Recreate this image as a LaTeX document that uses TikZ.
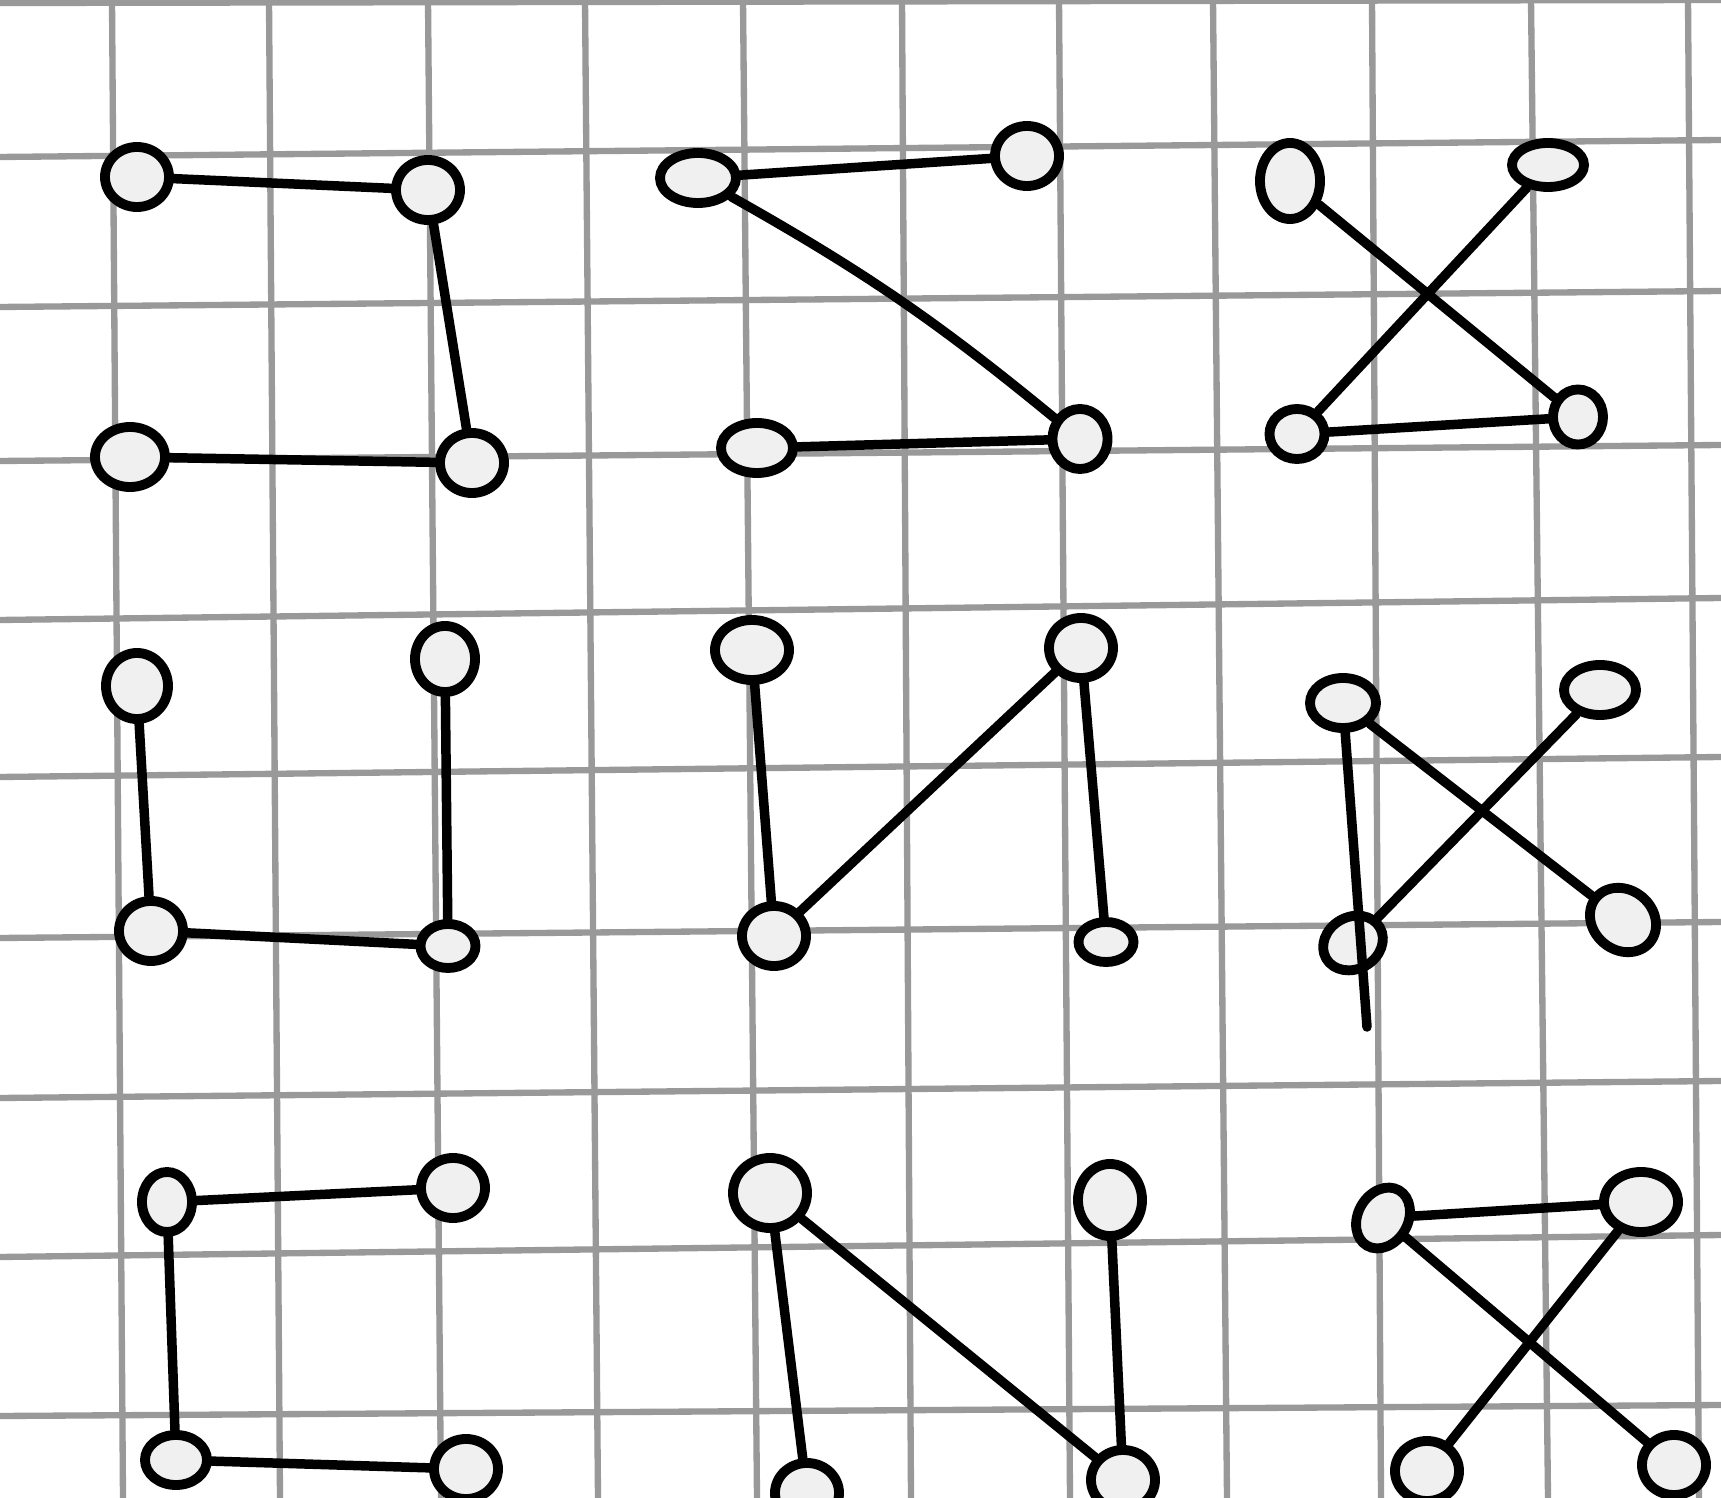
\documentclass[tikz,border=0pt]{standalone}
\usepackage{xcolor}
\usepackage{tikz}
\usetikzlibrary{shapes.geometric}
\tikzset{
  rejilla/.style={gray!80,line width=1.8pt},
  nodo/.style={ellipse,draw=black,fill=gray!12,line width=2.8pt,inner sep=0pt,minimum width=0.64cm,minimum height=0.6cm},
  plano/.style={nodo,minimum width=0.72cm,minimum height=0.5cm},
  arista/.style={black,line width=2.7pt,line cap=round}
}
\begin{document}
\begin{tikzpicture}[x=0.01cm,y=-0.01cm]
\useasboundingbox (0,0) rectangle (1721,1498);
\fill[white] (0,0) rectangle (1721,1498);
\draw[rejilla] (112,0)--(123,1498) (269,0)--(280,1498) (428,0)--(441,1498)
  (585,0)--(598,1498) (743,0)--(757,1498) (902,0)--(911,1498)
  (1059,0)--(1070,1498) (1213,0)--(1227,1498) (1372,0)--(1381,1498)
  (1531,0)--(1548,1498) (1688,0)--(1699,1498);
\draw[rejilla] (0,3)--(1721,0) (0,157)--(1721,140) (0,307)--(1721,291)
  (0,461)--(1721,445) (0,620)--(1721,598) (0,777)--(1721,757)
  (0,938)--(1721,922) (0,1098)--(1721,1081) (0,1257)--(1721,1235)
  (0,1416)--(1721,1405);
\node[nodo] (a1) at (137,177) {};
\node[nodo] (b1) at (428,190) {};
\node[nodo,minimum width=0.7cm] (c1) at (130,457) {};
\node[nodo] (d1) at (472,463) {};
\draw[arista] (a1)--(b1) (b1)--(d1) (c1)--(d1);
\node[plano,minimum width=0.76cm] (a2) at (698,178) {};
\node[nodo] (b2) at (1027,156) {};
\node[plano] (c2) at (757,448) {};
\node[nodo,minimum width=0.55cm] (d2) at (1080,439) {};
\draw[arista] (a2)--(b2) (c2)--(d2);
\draw[arista] (a2) to[bend left=5] (d2);
\node[nodo,minimum width=0.6cm,minimum height=0.76cm] (a3) at (1290,181) {};
\node[plano,minimum height=0.44cm] (b3) at (1548,165) {};
\node[nodo,minimum width=0.55cm,minimum height=0.5cm] (c3) at (1297,434) {};
\node[nodo,minimum width=0.5cm,minimum height=0.55cm] (d3) at (1578,417) {};
\draw[arista] (a3)--(d3) (b3)--(c3) (c3)--(d3);
\node[nodo,minimum width=0.62cm,minimum height=0.66cm] (a4) at (137,686) {};
\node[nodo,minimum width=0.6cm,minimum height=0.66cm] (b4) at (445,659) {};
\node[nodo] (c4) at (151,931) {};
\node[plano,minimum width=0.55cm,minimum height=0.44cm] (d4) at (448,946) {};
\draw[arista] (a4)--(c4) (b4)--(d4) (c4)--(d4);
\node[nodo,minimum width=0.74cm] (a5) at (752,650) {};
\node[nodo] (b5) at (1081,648) {};
\node[nodo] (c5) at (774,936) {};
\node[plano,minimum width=0.55cm,minimum height=0.4cm] (d5) at (1106,942) {};
\draw[arista] (a5)--(c5) (c5)--(b5) (b5)--(d5);
\node[plano,minimum width=0.66cm] (a6) at (1343,703) {};
\node[plano,minimum width=0.72cm] (b6) at (1600,690) {};
\node[plano,minimum width=0.62cm,minimum height=0.52cm,rotate=30] (c6) at (1353,943) {};
\node[nodo,minimum width=0.7cm,minimum height=0.6cm,rotate=-40] (d6) at (1623,920) {};
\coordinate (f6) at (1367,1027);
\draw[arista] (a6)--(f6) (a6)--(d6) (b6)--(c6);
\node[nodo,minimum width=0.5cm] (a7) at (167,1202) {};
\node[nodo] (b7) at (453,1188) {};
\node[plano,minimum width=0.62cm] (c7) at (176,1460) {};
\node[nodo] (d7) at (466,1469) {};
\draw[arista] (a7)--(b7) (a7)--(c7) (c7)--(d7);
\node[nodo,minimum width=0.74cm,minimum height=0.7cm] (a8) at (770,1193) {};
\node[nodo,minimum height=0.72cm] (b8) at (1110,1200) {};
\node[nodo] (c8) at (807,1493) {};
\node[nodo] (d8) at (1123,1480) {};
\draw[arista] (a8)--(c8) (a8)--(d8) (b8)--(d8);
\node[plano,minimum width=0.64cm,rotate=60] (a9) at (1383,1218) {};
\node[plano,minimum width=0.74cm,minimum height=0.6cm] (b9) at (1641,1202) {};
\node[nodo] (c9) at (1427,1471) {};
\node[nodo] (d9) at (1674,1465) {};
\draw[arista] (a9)--(b9) (a9)--(d9) (b9)--(c9);
\end{tikzpicture}
\end{document}
